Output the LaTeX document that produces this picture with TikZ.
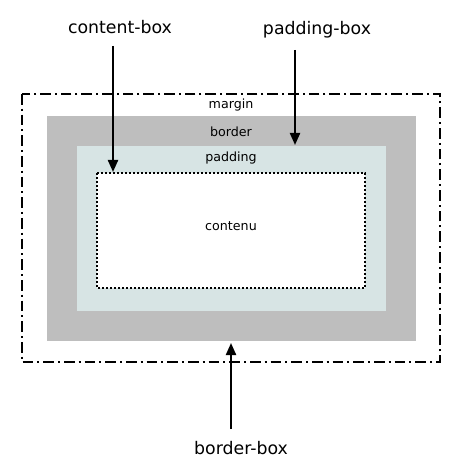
\documentclass[tikz,border=0pt]{standalone}
\usepackage{fontspec}
\setmainfont{DejaVu Sans}
\usetikzlibrary{arrows.meta}

\definecolor{bordergray}{HTML}{BEBEBE}
\definecolor{paddingblue}{HTML}{D7E4E4}

\tikzset{
  boxlabel/.style={font=\fontsize{9.5pt}{11pt}\selectfont, inner sep=0pt},
  biglabel/.style={font=\fontsize{13pt}{15pt}\selectfont, inner sep=0pt},
  pointer/.style={line width=1.6pt, -{Triangle[length=9pt,width=7.5pt]}}
}

\begin{document}
\begin{tikzpicture}[x=0.75pt,y=-0.75pt]
                    \useasboundingbox (0,0) rectangle (467,473);
                    \fill[bordergray] (47,116) rectangle (416,341);
                    \fill[paddingblue] (77,146) rectangle (386,311);
                    \fill[white] (97,173) rectangle (365,288);
                    \draw[line width=1.6pt, dash pattern=on 8pt off 3pt on 1.5pt off 3pt] (22,94) rectangle (440,362);
                    \draw[line width=1.6pt, dash pattern=on 1.5pt off 1.5pt] (97,173) rectangle (365,288);
                    \node[boxlabel] (margin) at (231,105) {margin};
                    \node[boxlabel] (border) at (231,132) {border};
                    \node[boxlabel] (padding) at (231,158) {padding};
                    \node[boxlabel] (contenu) at (231,226) {contenu};
                    \node[biglabel] (contentbox) at (120,27) {content-box};
                    \node[biglabel] (paddingbox) at (317,30) {padding-box};
                    \node[biglabel] (borderbox) at (241,448) {border-box};
                    \coordinate (contenttip) at (113,172);
                    \coordinate (paddingtip) at (295,145);
                    \coordinate (bordertip) at (231,343);
                    \draw[pointer] (113,46) -- (contenttip);
                    \draw[pointer] (295,50) -- (paddingtip);
                    \draw[pointer] (231,429) -- (bordertip);
                \end{tikzpicture}
\end{document}
